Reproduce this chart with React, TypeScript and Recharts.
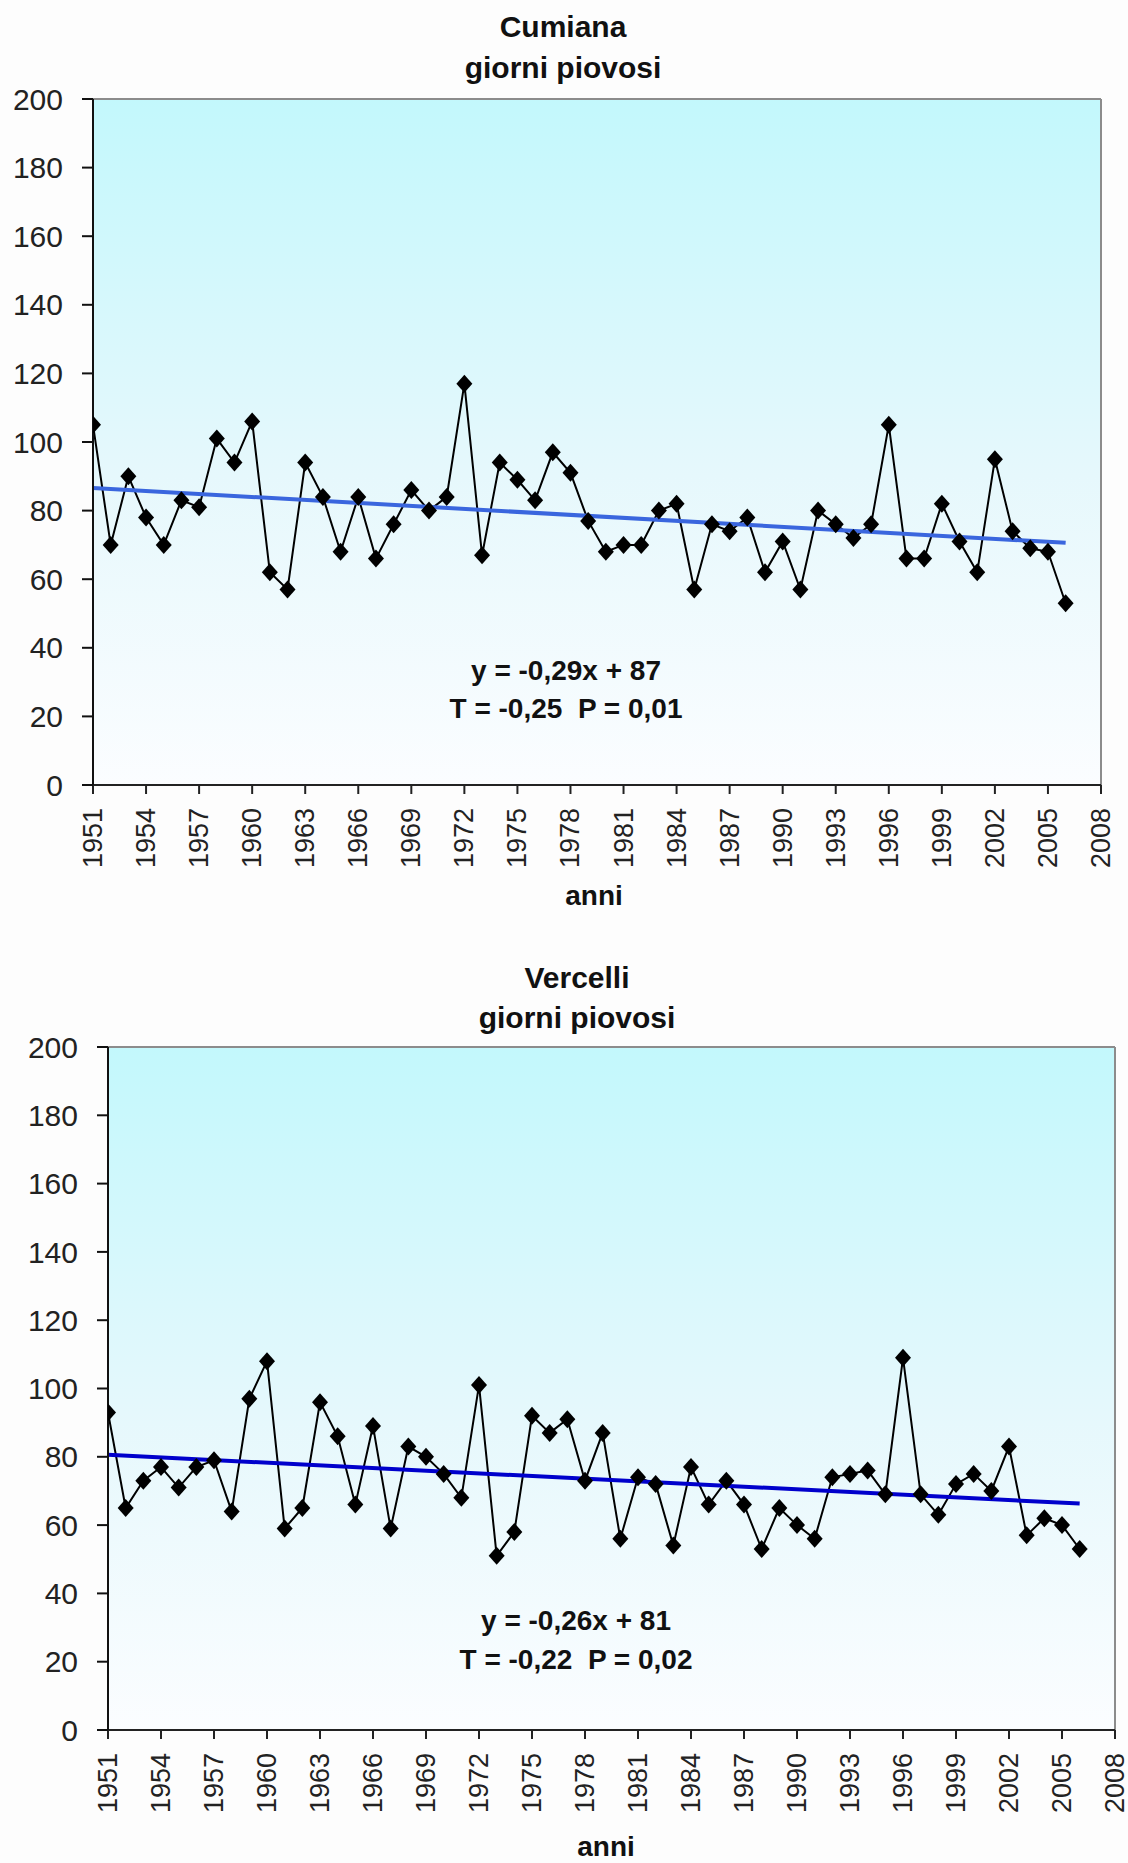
import {
  LineChart,
  Line,
  XAxis,
  YAxis,
  CartesianGrid,
  ReferenceLine,
} from "recharts";

const years = [
  1951, 1952, 1953, 1954, 1955, 1956, 1957, 1958, 1959, 1960,
  1961, 1962, 1963, 1964, 1965, 1966, 1967, 1968, 1969, 1970,
  1971, 1972, 1973, 1974, 1975, 1976, 1977, 1978, 1979, 1980,
  1981, 1982, 1983, 1984, 1985, 1986, 1987, 1988, 1989, 1990,
  1991, 1992, 1993, 1994, 1995, 1996, 1997, 1998, 1999, 2000,
  2001, 2002, 2003, 2004, 2005, 2006,
];

// giorni piovosi per anno
const cumianaDays = [
  105, 70, 90, 78, 70, 83, 81, 101, 94, 106,
  62, 57, 94, 84, 68, 84, 66, 76, 86, 80,
  84, 117, 67, 94, 89, 83, 97, 91, 77, 68,
  70, 70, 80, 82, 57, 76, 74, 78, 62, 71,
  57, 80, 76, 72, 76, 105, 66, 66, 82, 71,
  62, 95, 74, 69, 68, 53,
];

const vercelliDays = [
  93, 65, 73, 77, 71, 77, 79, 64, 97, 108,
  59, 65, 96, 86, 66, 89, 59, 83, 80, 75,
  68, 101, 51, 58, 92, 87, 91, 73, 87, 56,
  74, 72, 54, 77, 66, 73, 66, 53, 65, 60,
  56, 74, 75, 76, 69, 109, 69, 63, 72, 75,
  70, 83, 57, 62, 60, 53,
];

// linea di tendenza: valori agli estremi (1951, 2006)
const trendYears = [1951, 2006];
const cumianaTrend = [86.6, 70.6];
const vercelliTrend = [80.6, 66.3];

const xTicks = [
  1951, 1954, 1957, 1960, 1963, 1966, 1969, 1972, 1975, 1978,
  1981, 1984, 1987, 1990, 1993, 1996, 1999, 2002, 2005, 2008,
];
const yTicks = [0, 20, 40, 60, 80, 100, 120, 140, 160, 180, 200];

const data = years.map((year, i) => ({
  year,
  cumiana: cumianaDays[i],
  vercelli: vercelliDays[i],
}));

const FONT = '"Liberation Sans", Arial, sans-serif';

const YearTick = (props: any) => {
  const { x, y, payload } = props;
  return (
    <text
      transform={`translate(${x + 9},${y + 14}) rotate(-90)`}
      textAnchor="end"
      fontSize={27}
      fontFamily={FONT}
      fill="#222"
    >
      {payload.value}
    </text>
  );
};

const renderDiamond = (p: any) => {
  const { cx, cy, index } = p;
  if (cx == null || cy == null) return <g key={`e-${index}`} />;
  return (
    <polygon
      key={`d-${index}`}
      points={`${cx},${cy - 9} ${cx + 8},${cy} ${cx},${cy + 9} ${cx - 8},${cy}`}
      fill="#000"
    />
  );
};

type ChartProps = {
  top: number;
  height: number;
  margin: { top: number; right: number; bottom: number; left: number };
  yWidth: number;
  dataKey: "cumiana" | "vercelli";
  gradId: string;
  trend: number[];
  trendColor: string;
};

const StationChart: React.FC<ChartProps> = ({
  top,
  height,
  margin,
  yWidth,
  dataKey,
  gradId,
  trend,
  trendColor,
}) => (
  <div style={{ position: "absolute", left: 0, top, width: 1128, height }}>
    <LineChart width={1128} height={height} data={data} margin={margin}>
      <defs>
        <linearGradient id={gradId} x1="0" y1="0" x2="0" y2="1">
          <stop offset="0%" stopColor="#c3f8fc" />
          <stop offset="55%" stopColor="#e6f8fc" />
          <stop offset="100%" stopColor="#fbfdff" />
        </linearGradient>
      </defs>
      <CartesianGrid
        fill={`url(#${gradId})`}
        fillOpacity={1}
        horizontal={false}
        vertical={false}
        stroke="none"
      />
      <XAxis
        dataKey="year"
        type="number"
        domain={[1951, 2008]}
        ticks={xTicks}
        interval={0}
        height={100}
        tickSize={9}
        tickMargin={0}
        tick={<YearTick />}
        axisLine={{ stroke: "#222", strokeWidth: 2 }}
        tickLine={{ stroke: "#222", strokeWidth: 2 }}
        allowDataOverflow
      />
      <YAxis
        type="number"
        domain={[0, 200]}
        ticks={yTicks}
        interval={0}
        width={yWidth}
        tickSize={11}
        tickMargin={19}
        tick={{ fontSize: 30, fill: "#222", fontFamily: FONT }}
        axisLine={{ stroke: "#111", strokeWidth: 2 }}
        tickLine={{ stroke: "#111", strokeWidth: 2 }}
      />
      <ReferenceLine y={200} stroke="#8c8c8c" strokeWidth={2} />
      <ReferenceLine x={2008} stroke="#8c8c8c" strokeWidth={2} />
      <Line
        type="linear"
        dataKey={dataKey}
        stroke="#000"
        strokeWidth={2}
        dot={renderDiamond}
        activeDot={false}
        isAnimationActive={false}
      />
      <ReferenceLine
        segment={[
          { x: trendYears[0], y: trend[0] },
          { x: trendYears[1], y: trend[1] },
        ]}
        stroke={trendColor}
        strokeWidth={4}
      />
    </LineChart>
  </div>
);

const textStyle = {
  fontFamily: FONT,
  fontWeight: 700,
  fill: "#111",
  style: { whiteSpace: "pre" as const },
};

export default function App() {
  return (
    <div
      style={{
        position: "absolute",
        left: 0,
        top: 0,
        width: 1128,
        height: 1863,
        overflow: "hidden",
        background: "#fdfdfd",
      }}
    >
      <StationChart
        top={0}
        height={900}
        margin={{ top: 99, right: 27, bottom: 15, left: 0 }}
        yWidth={93}
        dataKey="cumiana"
        gradId="bgCumiana"
        trend={cumianaTrend}
        trendColor="#3a66de"
      />
      <StationChart
        top={940}
        height={923}
        margin={{ top: 107, right: 13, bottom: 33, left: 0 }}
        yWidth={108}
        dataKey="vercelli"
        gradId="bgVercelli"
        trend={vercelliTrend}
        trendColor="#0000cc"
      />
      <svg
        width={1128}
        height={1863}
        style={{ position: "absolute", left: 0, top: 0, pointerEvents: "none" }}
      >
        <g textAnchor="middle">
          <text x={563} y={37} fontSize={30} {...textStyle}>Cumiana</text>
          <text x={563} y={78} fontSize={30} {...textStyle}>giorni piovosi</text>
          <text x={566} y={680} fontSize={28} {...textStyle}>y = -0,29x + 87</text>
          <text x={566} y={718} fontSize={28} {...textStyle}>{"T = -0,25\u00a0 P = 0,01"}</text>
          <text x={594} y={905} fontSize={28} {...textStyle}>anni</text>

          <text x={577} y={988} fontSize={30} {...textStyle}>Vercelli</text>
          <text x={577} y={1028} fontSize={30} {...textStyle}>giorni piovosi</text>
          <text x={576} y={1630} fontSize={28} {...textStyle}>y = -0,26x + 81</text>
          <text x={576} y={1669} fontSize={28} {...textStyle}>{"T = -0,22\u00a0 P = 0,02"}</text>
          <text x={606} y={1856} fontSize={28} {...textStyle}>anni</text>
        </g>
      </svg>
    </div>
  );
}
